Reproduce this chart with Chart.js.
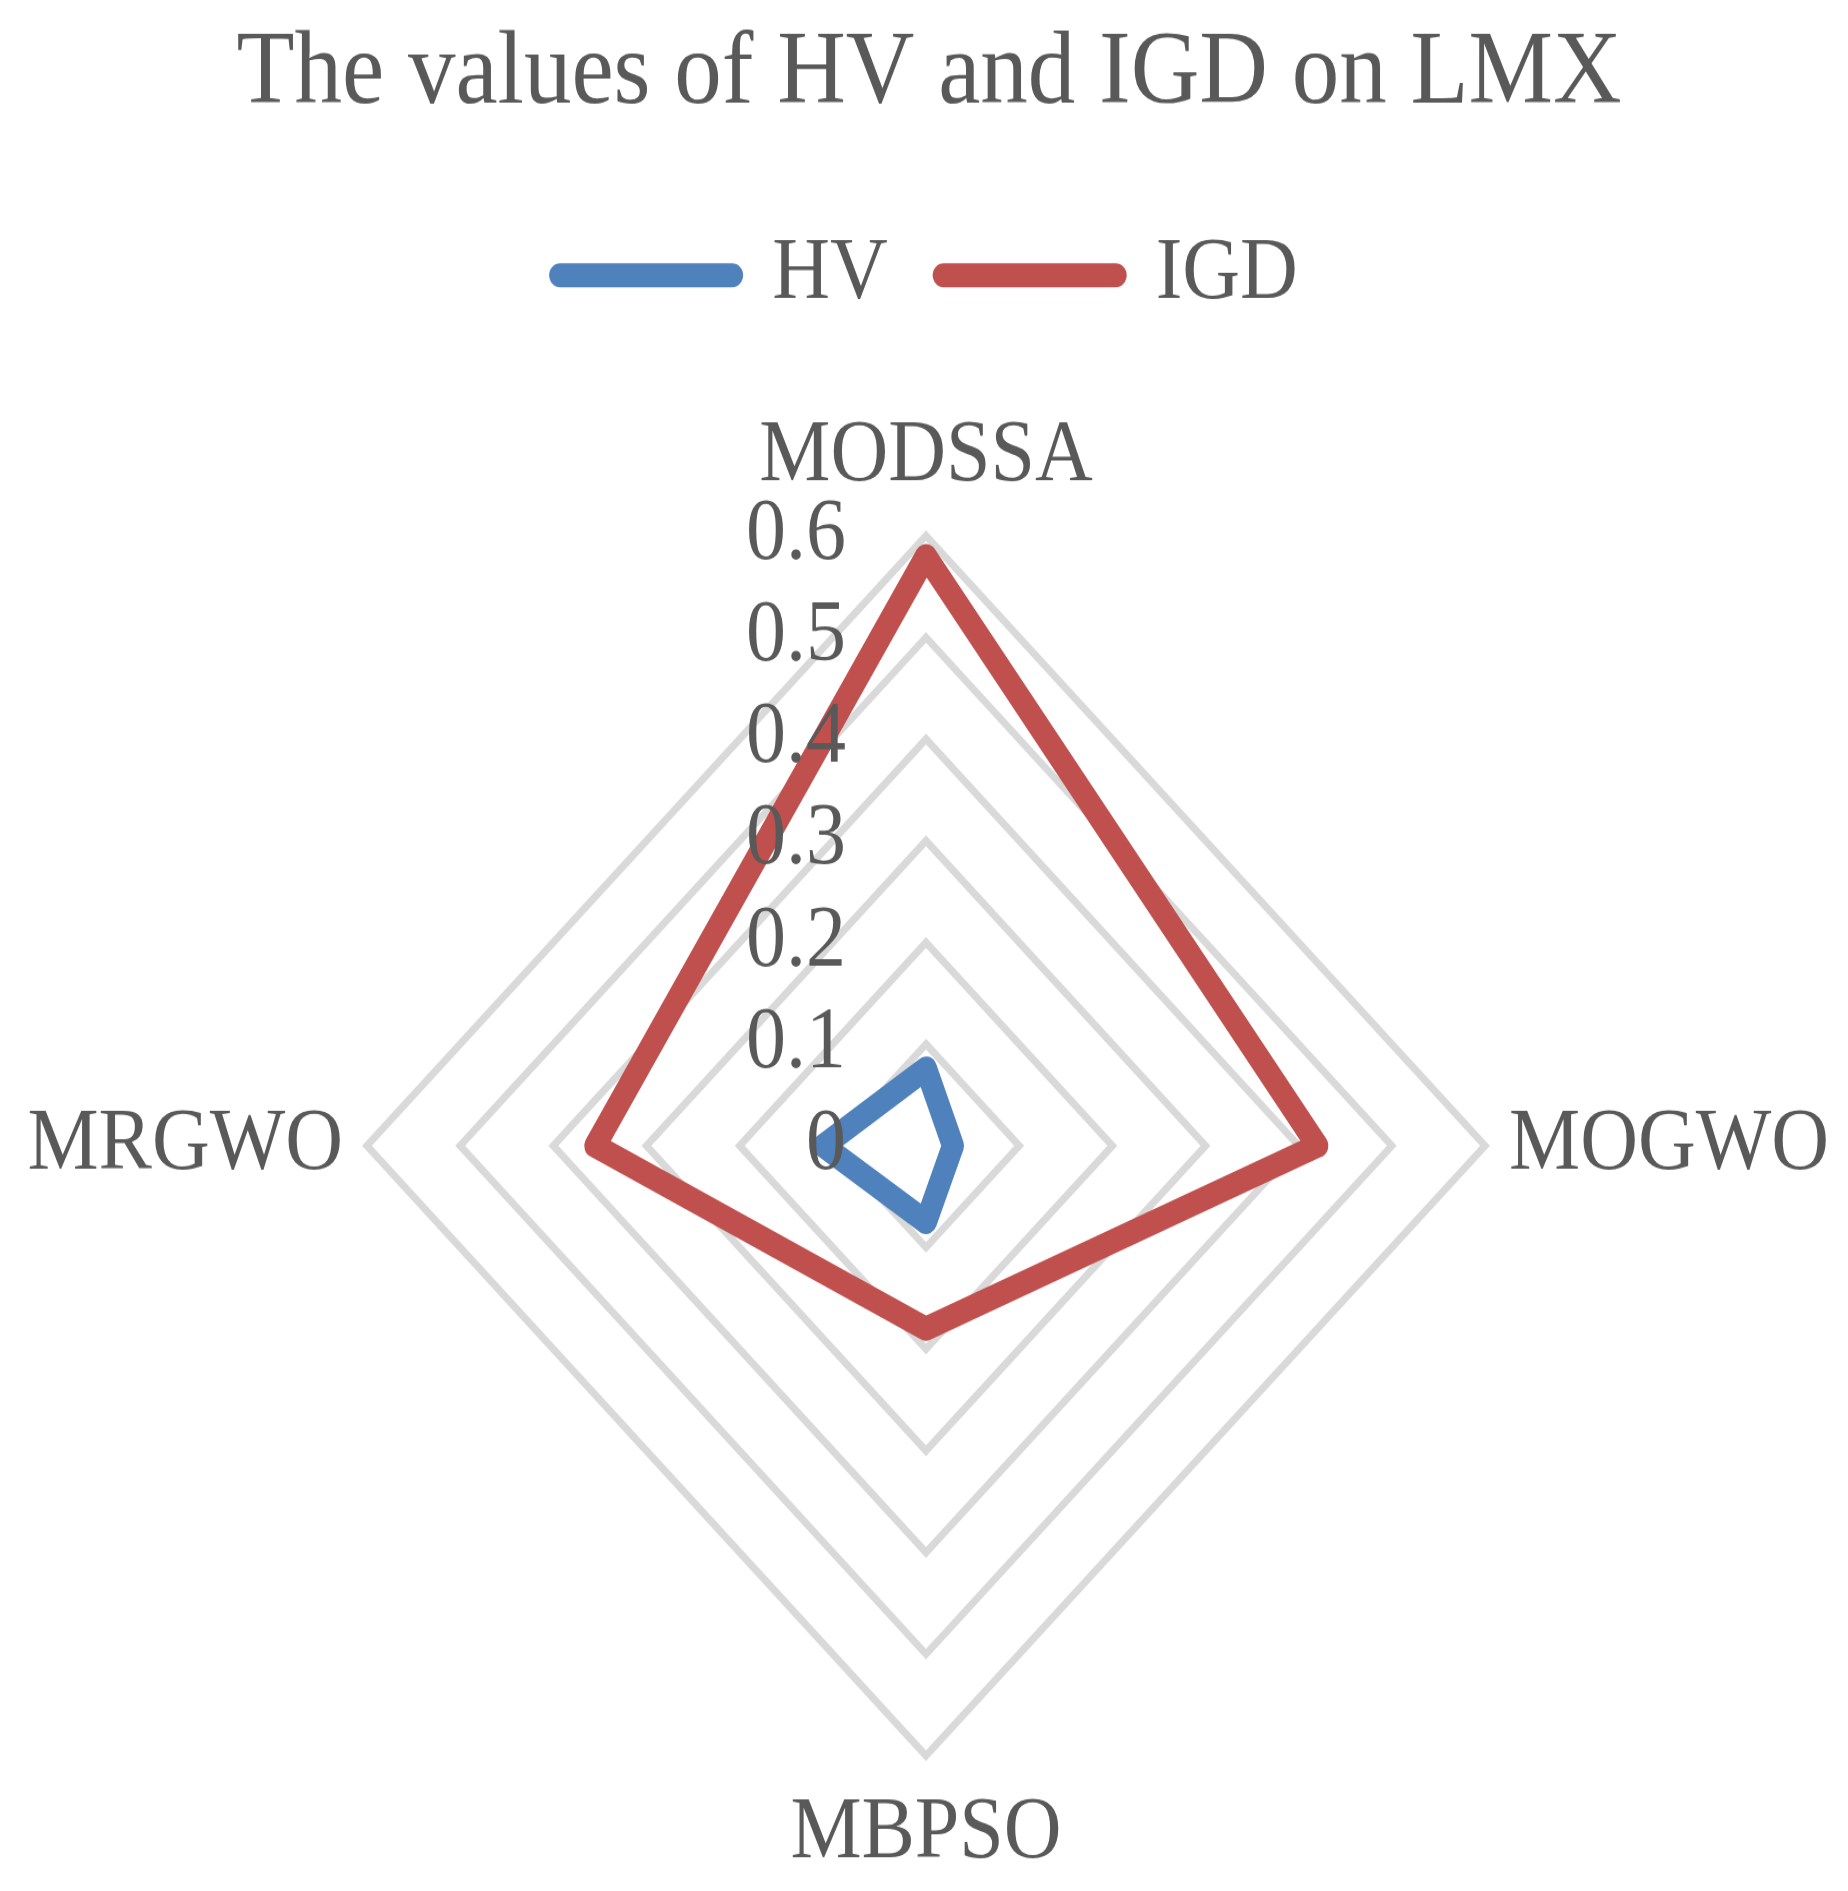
<!DOCTYPE html>
<html>
<head>
<meta charset="utf-8">
<script src="https://cdn.jsdelivr.net/npm/chart.js@4.4.1/dist/chart.umd.min.js"></script>
<style>
  html, body { margin: 0; padding: 0; background: #fff; }
</style>
</head>
<body>
<!-- the original picture is stretched vertically, so the canvas is drawn shorter and scaled up -->
<canvas id="radar" width="1848" height="1733" style="display:block;width:1848px;height:1891px"></canvas>
<script>
const algorithms = ['MODSSA', 'MOGWO', 'MBPSO', 'MRGWO'];
const hvValues = [0.076, 0.029, 0.075, 0.11];
const igdValues = [0.58, 0.42, 0.18, 0.355];
const tickLabels = ['0', '0.1', '0.2', '0.3', '0.4', '0.5', '0.6'];

const serif = "'Liberation Serif', 'Times New Roman', serif";
const textGrey = '#595959';
const lineW = 22;

// tick labels sit right-aligned left of the vertical axis, on top of the lines (incl. the 0)
const tickLabelPlugin = {
  id: 'tickLabels',
  afterDatasetsDraw(chart) {
    const r = chart.scales.r;
    const ctx = chart.ctx;
    ctx.save();
    ctx.font = '80px ' + serif;
    ctx.fillStyle = textGrey;
    ctx.textAlign = 'right';
    ctx.textBaseline = 'middle';
    r.ticks.forEach(t => {
      ctx.fillText(t.label, r.xCenter - 80, r.yCenter - r.getDistanceFromCenterForValue(t.value));
    });
    ctx.restore();
  }
};

new Chart(document.getElementById('radar'), {
  type: 'radar',
  data: {
    labels: algorithms,
    datasets: [
      { label: 'HV', data: hvValues, borderColor: '#4F81BD', backgroundColor: '#4F81BD',
        borderWidth: lineW, borderJoinStyle: 'round', borderCapStyle: 'round', fill: false, pointRadius: 0 },
      { label: 'IGD', data: igdValues, borderColor: '#C0504D', backgroundColor: '#C0504D',
        borderWidth: lineW, borderJoinStyle: 'round', borderCapStyle: 'round', fill: false, pointRadius: 0 }
    ]
  },
  options: {
    responsive: false,
    devicePixelRatio: 1,
    animation: false,
    layout: { padding: { top: 0, left: 26, right: 16, bottom: 0 } },
    plugins: {
      title: {
        display: true,
        text: 'The values of HV and IGD on LMX',
        color: textGrey,
        font: { family: serif, size: 95, weight: 'normal', lineHeight: 1.2 },
        padding: { top: 12, bottom: 30.3 }
      },
      legend: {
        position: 'top',
        weight: 1800,
        labels: {
          usePointStyle: true,
          pointStyle: 'line',
          pointStyleWidth: 172,
          padding: 56,
          color: textGrey,
          font: { family: serif, size: 80 },
          generateLabels: (chart) => Chart.defaults.plugins.legend.labels.generateLabels(chart)
            .map(item => Object.assign(item, { lineWidth: lineW, lineCap: 'round' }))
        }
      },
      // empty subtitle under the legend, only used as a gap above the radar
      subtitle: {
        display: true,
        text: '',
        font: { size: 1, lineHeight: 1 },
        padding: { top: 63.7, bottom: 0 }
      },
      tooltip: { enabled: false }
    },
    scales: {
      r: {
        min: 0,
        max: 0.6,
        ticks: { stepSize: 0.1, display: false, callback: (v, i) => tickLabels[i] },
        grid: { color: '#D9D9D9', lineWidth: 7 },
        angleLines: { display: false },
        pointLabels: { color: textGrey, padding: 24, font: { family: serif, size: 80 } }
      }
    }
  },
  plugins: [tickLabelPlugin]
});
</script>
</body>
</html>
